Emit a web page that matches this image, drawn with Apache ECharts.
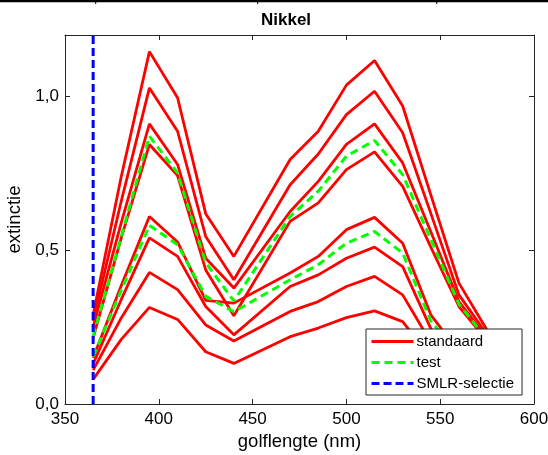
<!DOCTYPE html>
<html>
<head>
<meta charset="utf-8">
<script src="https://cdn.jsdelivr.net/npm/echarts@6/dist/echarts.min.js"></script>
<style>
  html, body { margin: 0; padding: 0; background: #fff; }
  #chart { width: 548px; height: 455px; }
</style>
</head>
<body>
<div id="chart"></div>
<script>
// Wavelengths (nm) at which the spectra were measured
const wavelengths = [365, 380, 395, 410, 425, 440, 470, 485, 500, 515, 530, 545, 560, 575];

// Absorbance spectra of the nickel calibration standards
const standaard1 = [0.29, 0.74, 1.146, 0.996, 0.619, 0.480, 0.795, 0.887, 1.037, 1.117, 0.969, 0.68, 0.393, 0.240];
const standaard2 = [0.27, 0.66, 1.028, 0.887, 0.545, 0.404, 0.713, 0.813, 0.941, 1.017, 0.882, 0.62, 0.355, 0.225];
const standaard3 = [0.25, 0.59, 0.911, 0.779, 0.474, 0.377, 0.626, 0.724, 0.844, 0.911, 0.784, 0.56, 0.333, 0.215];
const standaard4 = [0.215, 0.54, 0.844, 0.743, 0.436, 0.287, 0.594, 0.654, 0.762, 0.820, 0.708, 0.51, 0.317, 0.205];
const standaard5 = [0.15, 0.385, 0.610, 0.527, 0.337, 0.328, 0.426, 0.480, 0.567, 0.607, 0.523, 0.29, 0.17, 0.10];
const standaard6 = [0.13, 0.34, 0.540, 0.480, 0.317, 0.225, 0.382, 0.420, 0.474, 0.510, 0.447, 0.245, 0.14, 0.08];
const standaard7 = [0.11, 0.28, 0.428, 0.372, 0.257, 0.205, 0.301, 0.333, 0.382, 0.415, 0.355, 0.20, 0.11, 0.06];
const standaard8 = [0.08, 0.21, 0.314, 0.275, 0.170, 0.132, 0.219, 0.247, 0.281, 0.303, 0.268, 0.15, 0.08, 0.05];

// Absorbance spectra of the test samples
const test1 = [0.22, 0.545, 0.871, 0.751, 0.46, 0.335, 0.61, 0.692, 0.806, 0.857, 0.746, 0.535, 0.325, 0.21];
const test2 = [0.154, 0.37, 0.581, 0.518, 0.35, 0.30, 0.404, 0.453, 0.523, 0.561, 0.491, 0.27, 0.16, 0.09];

// Wavelength picked by the SMLR selection
const smlrSelectie = [365];

// Axis ranges and tick steps
const xRange = [350, 600], xStep = 50;
const yRange = [0, 1.2], yStep = 0.5;

const FONT = '"Liberation Sans", Arial, Helvetica, sans-serif';
const AXIS_COLOR = '#262626';

const standards = [standaard1, standaard2, standaard3, standaard4, standaard5, standaard6, standaard7, standaard8];
const tests = [test1, test2];

const toPairs = arr => wavelengths.map((w, i) => [w, arr[i]]);

const series = [];
standards.forEach(s => series.push({
  name: 'standaard', type: 'line', data: toPairs(s), symbol: 'none',
  lineStyle: { color: '#ff0000', width: 2.8, type: 'solid' },
  itemStyle: { color: '#ff0000' }, z: 2
}));
tests.forEach(s => series.push({
  name: 'test', type: 'line', data: toPairs(s), symbol: 'none',
  lineStyle: { color: '#00ff00', width: 3, type: [8, 5] },
  itemStyle: { color: '#00ff00' }, z: 3
}));
smlrSelectie.forEach(w => series.push({
  name: 'SMLR-selectie', type: 'line', data: [[w, yRange[0]], [w, yRange[1]]], symbol: 'none',
  lineStyle: { color: '#0000ff', width: 3, type: [8, 4] },
  itemStyle: { color: '#0000ff' }, z: 4
}));

const commaFmt = v => (Math.abs(v / yStep - Math.round(v / yStep)) < 1e-6) ? v.toFixed(1).replace('.', ',') : '';

const baseAxis = {
  type: 'value',
  axisLine: { show: true, onZero: false, lineStyle: { color: AXIS_COLOR, width: 1 } },
  axisTick: { show: true, inside: true, length: 5, lineStyle: { color: AXIS_COLOR, width: 1 } },
  splitLine: { show: false },
  minorTick: { show: false }
};

const chart = echarts.init(document.getElementById('chart'), null, { renderer: 'canvas' });
chart.setOption({
  animation: false,
  backgroundColor: '#fff',
  title: {
    text: 'Nikkel', left: 261, top: 12, padding: 0,
    textStyle: { fontFamily: FONT, fontSize: 17, fontWeight: 'bold', color: '#000' }
  },
  grid: { left: 65, right: 14, top: 35, bottom: 51, containLabel: false, outerBoundsMode: 'none' },
  xAxis: [
    Object.assign({}, baseAxis, {
      min: xRange[0], max: xRange[1], interval: xStep, position: 'bottom',
      axisLabel: { show: true, fontFamily: FONT, fontSize: 17, color: '#000', margin: 7 },
      name: 'golflengte (nm)', nameLocation: 'middle', nameGap: 27,
      nameTextStyle: { fontFamily: FONT, fontSize: 18.5, color: '#000' }
    }),
    Object.assign({}, baseAxis, {
      min: xRange[0], max: xRange[1], interval: xStep, position: 'top',
      axisLabel: { show: false }
    })
  ],
  yAxis: [
    Object.assign({}, baseAxis, {
      min: yRange[0], max: yRange[1], interval: yStep, position: 'left',
      axisLabel: { show: true, fontFamily: FONT, fontSize: 17, color: '#000', margin: 6, formatter: commaFmt },
      name: 'extinctie', nameLocation: 'middle', nameGap: 39,
      nameTextStyle: { fontFamily: FONT, fontSize: 18.5, color: '#000' }
    }),
    Object.assign({}, baseAxis, {
      min: yRange[0], max: yRange[1], interval: yStep, position: 'right',
      axisLabel: { show: false }
    })
  ],
  legend: {
    data: ['standaard', 'test', 'SMLR-selectie'],
    orient: 'vertical', left: 366, top: 329,
    itemWidth: 42, itemHeight: 14, itemGap: 6,
    padding: [5, 8, 4, 4],
    borderColor: AXIS_COLOR, borderWidth: 1, backgroundColor: '#fff',
    selectedMode: false,
    itemStyle: { opacity: 0, borderWidth: 0 },
    lineStyle: { width: 3 },
    textStyle: { fontFamily: FONT, fontSize: 15, color: '#000', padding: [0, 0, 0, -2] }
  },
  graphic: [
    { type: 'rect', silent: true, shape: { x: 0, y: 0, width: 548, height: 2.3 }, style: { fill: '#000' } },
    { type: 'line', silent: true, shape: { x1: 95.7, y1: 0, x2: 95.7, y2: 4 }, style: { stroke: '#000', lineWidth: 1 } },
    { type: 'line', silent: true, shape: { x1: 257.7, y1: 0, x2: 257.7, y2: 4 }, style: { stroke: '#000', lineWidth: 1 } },
    { type: 'line', silent: true, shape: { x1: 436.7, y1: 0, x2: 436.7, y2: 4 }, style: { stroke: '#000', lineWidth: 1 } }
  ],
  series: series
});
</script>
</body>
</html>
